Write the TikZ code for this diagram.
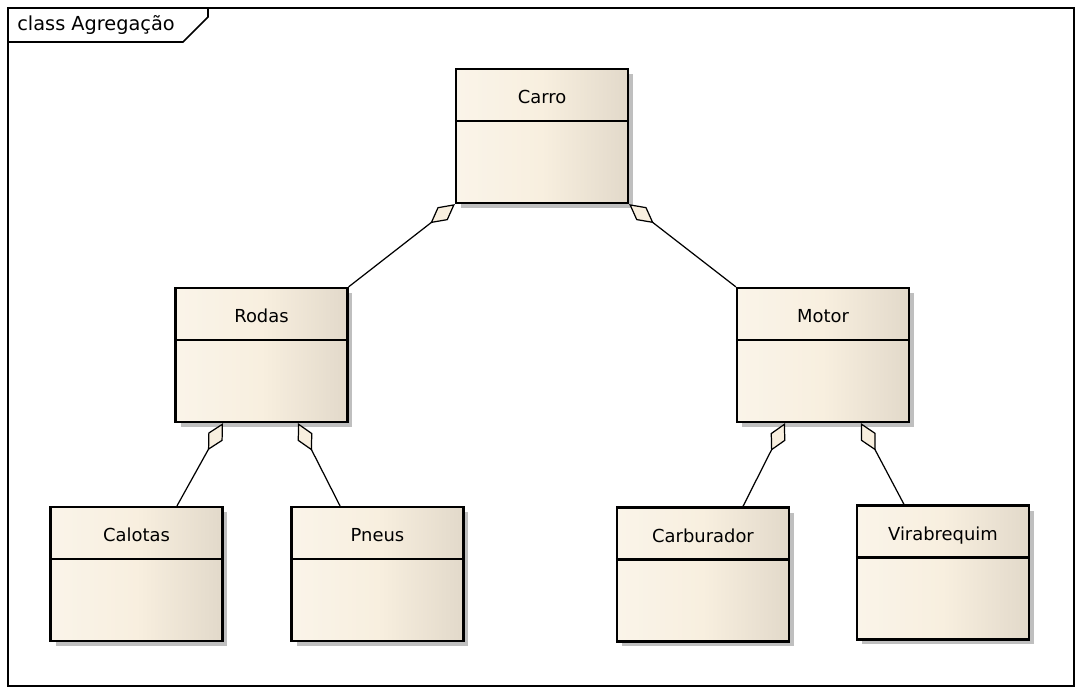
\documentclass[tikz,border=0pt]{standalone}
\usepackage{fontspec}
\setmainfont{DejaVu Sans}
\usetikzlibrary{arrows.meta,shadows}
\definecolor{cremeA}{HTML}{FAF4E9}
\definecolor{cremeB}{HTML}{F8EFDF}
\definecolor{cremeC}{HTML}{E2D9CA}
\tikzset{
  classe/.style={draw, line width=1.3pt, minimum width=3.44cm, minimum height=2.68cm,
    inner sep=0pt, left color=cremeA, right color=cremeC, middle color=cremeB,
    drop shadow={shadow xshift=0.1cm, shadow yshift=-0.1cm, fill=black!25, opacity=1}},
  titulo/.style={anchor=base, inner sep=0pt, font=\fontsize{10.2}{12}\selectfont},
  agreg/.style={{Diamond[length=0.62cm,width=0.33cm,fill=cremeB]}-, line width=0.7pt}
}
% caixa de classe: nome, centro, texto
\newcommand{\classe}[3]{%
  \node [classe] (#1) at (#2) {};
  \node [titulo] (#1-nome) at ([yshift=-0.72cm]#1.north) {#3};
  \draw [line width=1.3pt] ([yshift=-1.06cm]#1.north west) -- ([yshift=-1.06cm]#1.north east);
}

\begin{document}
\begin{tikzpicture}[x=0.02cm,y=-0.02cm]
\useasboundingbox (0,0) rectangle (1083,696);
\draw [line width=1pt] (8,8) rectangle (1074,686);
\draw [line width=1pt] (8,42) -- (183,42) -- (208,17) -- (208,8);
\node [anchor=base west, inner sep=0pt, font=\fontsize{11}{12}\selectfont] (quadro) at (17,31) {class Agregação};

\classe{carro}{542,136}{Carro}
\classe{rodas}{261.5,355}{Rodas}
\classe{motor}{823,355}{Motor}
\classe{calotas}{136.5,574}{Calotas}
\classe{pneus}{377.5,574}{Pneus}
\classe{carburador}{703,574.5}{Carburador}
\classe{virabrequim}{943,572.5}{Virabrequim}

\draw [agreg] (carro.south west) -- (rodas.north east);
\draw [agreg] (carro.south east) -- (motor.north west);
\draw [agreg] ([xshift=-0.77cm]rodas.south) -- ([xshift=0.81cm]calotas.north);
\draw [agreg] ([xshift=0.73cm]rodas.south) -- ([xshift=-0.75cm]pneus.north);
\draw [agreg] ([xshift=-0.76cm]motor.south) -- ([xshift=0.8cm]carburador.north);
\draw [agreg] ([xshift=0.76cm]motor.south) -- ([xshift=-0.78cm]virabrequim.north);
\end{tikzpicture}
\end{document}
